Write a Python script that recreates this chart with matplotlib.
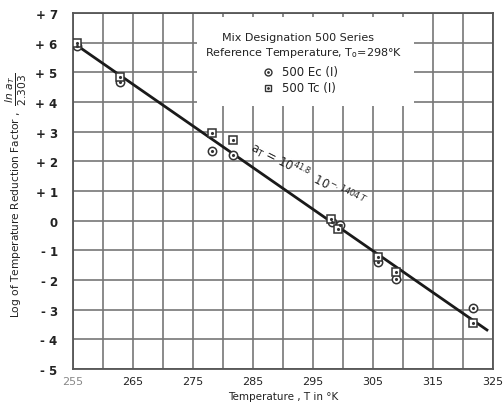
import matplotlib.pyplot as plt
from matplotlib.patches import Rectangle
import numpy as np

# data
ec_temp = [255.6, 262.8, 278.2, 281.7, 298.1, 299.5, 305.9, 308.8, 321.7]
ec_log = [5.88, 4.67, 2.36, 2.22, -0.05, -0.16, -1.39, -1.96, -2.94]
tc_temp = [255.6, 262.8, 278.2, 281.7, 298.0, 299.2, 305.9, 308.8, 321.7]
tc_log = [6.00, 4.83, 2.95, 2.70, 0.06, -0.27, -1.23, -1.73, -3.44]

# fitted line  a_T = 10^41.8 * 10^(-.1404 T)
fit_const = 41.8
fit_slope = -0.1404
fit_range = [255.3, 324.0]

x_ticks = [255, 265, 275, 285, 295, 305, 315, 325]
y_ticks = list(range(-5, 8))
y_labels = ["- 5", "- 4", "- 3", "- 2", "- 1", "0", "+ 1", "+ 2", "+ 3", "+ 4", "+ 5", "+ 6", "+ 7"]

plt.rcParams['font.family'] = ['DejaVu Sans']
fig = plt.figure(figsize=(5.03, 4.10), dpi=100)
ax = fig.add_axes([0.145, 0.098, 0.835, 0.868])

ax.set_xlim(255, 325)
ax.set_ylim(-5, 7)

# grid every 5 K and every unit
for xv in np.arange(255, 326, 5):
    ax.axvline(xv, color='#777777', lw=1.2, zorder=1)
for yv in y_ticks:
    ax.axhline(yv, color='#777777', lw=1.2, zorder=1)

# blank area behind the legend text
ax.add_patch(Rectangle((275.6, 3.85), 36.3, 3.0, facecolor='white', edgecolor='none', zorder=2))

fx = np.array(fit_range)
ax.plot(fx, fit_const + fit_slope * fx, color='#1a1a1a', lw=2.0, zorder=3)

ax.plot(ec_temp, ec_log, 'o', ms=6, mfc='white', mec='#333333', mew=1.1, zorder=4)
ax.plot(ec_temp, ec_log, '.', ms=2.5, color='#333333', zorder=5)
ax.plot(tc_temp, tc_log, 's', ms=6, mfc='white', mec='#333333', mew=1.1, zorder=4)
ax.plot(tc_temp, tc_log, '.', ms=2.5, color='#333333', zorder=5)

ax.text(292.5, 6.19, "Mix Designation 500 Series", ha='center', va='center',
        fontsize=8, color='#222222', zorder=6)
ax.text(293.5, 5.69, "Reference Temperature, T$_\\mathregular{o}$=298°K", ha='center', va='center',
        fontsize=8, color='#222222', zorder=6)
ax.plot([287.5], [5.01], 'o', ms=5, mfc='white', mec='#333333', mew=1.0, zorder=6)
ax.plot([287.5], [5.01], '.', ms=2, color='#333333', zorder=6)
ax.text(289.8, 5.01, "500 Ec (I)", ha='left', va='center', fontsize=8.5, color='#222222', zorder=6)
ax.plot([287.5], [4.47], 's', ms=5, mfc='white', mec='#333333', mew=1.0, zorder=6)
ax.plot([287.5], [4.47], '.', ms=2, color='#333333', zorder=6)
ax.text(289.8, 4.47, "500 Tc (I)", ha='left', va='center', fontsize=8.5, color='#222222', zorder=6)

ax.text(294.2, 1.55, "a$_\\mathregular{T}$ = 10$^{41.8}$  10$^{-.1404\\,T}$", rotation=-27,
        ha='center', va='center', fontsize=8.5, color='#222222', zorder=6)

ax.set_xticks(x_ticks)
ax.set_xticklabels([str(v) for v in x_ticks], fontsize=8, color='#222222')
ax.get_xticklabels()[0].set_color('#888888')
ax.set_yticks(y_ticks)
ax.set_yticklabels(y_labels, fontsize=8.5, fontweight='bold', color='#222222')
ax.tick_params(axis='y', length=0, pad=11)
ax.tick_params(axis='x', length=0, pad=5)

for sp in ax.spines.values():
    sp.set_color('#555555')
    sp.set_linewidth(1.3)

ax.set_xlabel("Temperature , T in °K", fontsize=7.5, color='#222222', labelpad=4)
ax.set_ylabel("Log of Temperature Reduction Factor ,  $\\dfrac{ln\\ a_T}{2.303}$",
              fontsize=7.7, color='#222222')
ax.yaxis.set_label_coords(-0.105, 0.49)

fig.savefig("out.png", dpi=100)
